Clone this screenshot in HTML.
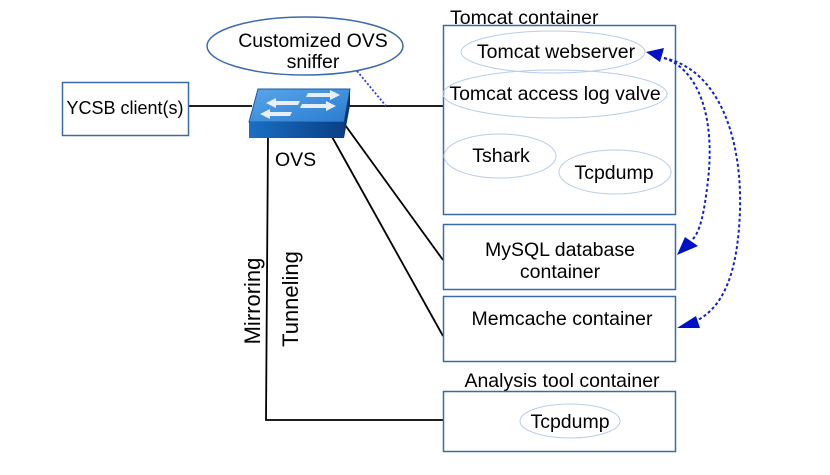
<!DOCTYPE html>
<html><head><style>body{margin:0;background:#fff}svg{display:block}text{font-family:"Liberation Sans",sans-serif;fill:#000}</style></head>
<body>
<svg width="830" height="475" viewBox="0 0 830 475" xmlns="http://www.w3.org/2000/svg">
<defs>
<linearGradient id="g1" x1="0" y1="0" x2="1" y2="0"><stop offset="0" stop-color="#1a6fc4"/><stop offset="1" stop-color="#0a3f86"/></linearGradient>
<linearGradient id="g2" x1="0" y1="0" x2="1" y2="1"><stop offset="0" stop-color="#5aa6ea"/><stop offset="1" stop-color="#2a7cd0"/></linearGradient>
</defs>
<g stroke="#000" stroke-width="1.8" fill="none">
<line x1="188" y1="106" x2="252" y2="106"/>
<line x1="348" y1="106" x2="443" y2="106"/>
<line x1="340" y1="118" x2="443" y2="260"/>
<line x1="331" y1="135" x2="443" y2="336"/>
<polyline points="268,136 266,420 443,420"/>
</g>
<line x1="357" y1="71" x2="386" y2="106" stroke="#2a3cf0" stroke-width="1.8" stroke-dasharray="2,2"/>
<rect x="62.5" y="82.5" width="126" height="53" fill="#fff" stroke="#3a6aaa" stroke-width="1.5"/>
<text x="125" y="114" font-size="18" text-anchor="middle">YCSB client(s)</text>
<ellipse cx="305" cy="46" rx="98" ry="29" fill="#fff" stroke="#3a6aaa" stroke-width="1.5"/>
<text x="313" y="47" font-size="19.5" text-anchor="middle">Customized OVS</text>
<text x="313" y="68" font-size="19.5" text-anchor="middle">sniffer</text>
<polygon points="258,89 350,89 344,122 249,122" fill="url(#g2)" stroke="#1a5aa8"/>
<polygon points="249,122 344,122 344,138 249,138" fill="url(#g1)"/>
<polygon points="350,89 350,105 344,138 344,122" fill="#0a3570"/>
<g fill="#e8eef5">
<polygon points="266,103 276,98 276,101 300,101 298,105 276,105 276,108"/>
<polygon points="260,114 270,109 270,112 292,112 290,116 270,116 270,119"/>
<polygon points="340,95 330,90 330,93 308,93 306,97 330,97 330,100"/>
<polygon points="336,106 326,101 326,104 302,104 300,108 326,108 326,111"/>
</g>
<text x="275" y="166" font-size="19.5">OVS</text>
<text transform="translate(260,301) rotate(-90)" font-size="22" text-anchor="middle">Mirroring</text>
<text transform="translate(298,299) rotate(-90)" font-size="22" text-anchor="middle">Tunneling</text>
<text x="450" y="24" font-size="19.5">Tomcat container</text>
<rect x="443.5" y="25.5" width="232" height="189" fill="#fff" stroke="#3a6aaa" stroke-width="1.5"/>
<g fill="none" stroke="#b8cde8" stroke-width="1">
<ellipse cx="553" cy="52" rx="92" ry="21"/>
<ellipse cx="555" cy="94" rx="112" ry="24"/>
<ellipse cx="500" cy="156" rx="56" ry="22"/>
<ellipse cx="615" cy="172" rx="56" ry="22"/>
</g>
<text x="556" y="58" font-size="19.5" text-anchor="middle">Tomcat webserver</text>
<text x="555" y="100" font-size="19.5" text-anchor="middle">Tomcat access log valve</text>
<text x="501" y="162" font-size="19.5" text-anchor="middle">Tshark</text>
<text x="614" y="179" font-size="19.5" text-anchor="middle">Tcpdump</text>
<rect x="443.5" y="224.5" width="232" height="65" fill="#fff" stroke="#3a6aaa" stroke-width="1.5"/>
<text x="560" y="256" font-size="19.5" text-anchor="middle">MySQL database</text>
<text x="560" y="278" font-size="19.5" text-anchor="middle">container</text>
<rect x="443.5" y="296.5" width="232" height="65" fill="#fff" stroke="#3a6aaa" stroke-width="1.5"/>
<text x="562" y="325" font-size="19.5" text-anchor="middle">Memcache container</text>
<text x="562" y="387" font-size="19.5" text-anchor="middle">Analysis tool container</text>
<rect x="443.5" y="391.5" width="232" height="60" fill="#fff" stroke="#3a6aaa" stroke-width="1.5"/>
<ellipse cx="570" cy="421" rx="50" ry="17" fill="none" stroke="#b8cde8"/>
<text x="570" y="428" font-size="19.5" text-anchor="middle">Tcpdump</text>
<g fill="none" stroke="#1020d0" stroke-width="2" stroke-dasharray="3,2.5">
<path d="M664,58 C700,70 715,120 708,180 C704,215 700,232 692,240"/>
<path d="M664,58 C720,70 742,140 740,210 C738,270 725,305 698,320"/>
</g>
<g fill="#0010c8">
<polygon points="646,52 664,48 660,62"/>
<polygon points="677,255 685,237 698,246"/>
<polygon points="677,328 696,316 700,328"/>
</g>
</svg>
</body></html>
